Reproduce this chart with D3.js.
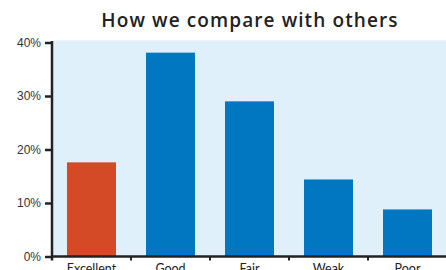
<!DOCTYPE html>
<html lang="en">
<head>
<meta charset="UTF-8">
<script src="https://d3js.org/d3.v7.min.js"></script>
<style>
    body { margin: 0; background: #fff; }
    svg { display: block; font-family: Lato, "Open Sans", sans-serif; }
    .tick-label { font-size: 12px; fill: #333; }
    .cat-label { font-size: 12.5px; fill: #222; }
    .title { font-family: "Open Sans", sans-serif; font-size: 19px; font-weight: 600; letter-spacing: 1.1px; fill: #222; }
</style>
</head>
<body>
<div id="chart"></div>
<script>
    // Data
    const categories = ["Excellent", "Good", "Fair", "Weak", "Poor"];
    const percents = [17.6, 38.1, 29.0, 14.4, 8.8];
    const highlight = "Excellent";
    const yTicks = [0, 10, 20, 30, 40];

    const width = 446, height = 270;
    const plotLeft = 52, plotRight = 447, plotTop = 42.5, plotBottom = 256.5;

    const svg = d3.select("#chart").append("svg")
        .attr("width", width)
        .attr("height", height);

    const x = d3.scaleBand()
        .domain(categories)
        .range([plotLeft, plotRight])
        .paddingInner(0.38)
        .paddingOuter(0.19);

    const y = d3.scaleLinear()
        .domain([0, 40])
        .range([plotBottom, plotTop]);

    // plot background
    svg.append("rect")
        .attr("x", plotLeft)
        .attr("y", plotTop - 2)
        .attr("width", width - plotLeft)
        .attr("height", plotBottom - plotTop + 2)
        .attr("fill", "#dff0fa");

    // bars
    svg.append("g")
        .selectAll("rect")
        .data(categories)
        .enter().append("rect")
        .attr("x", d => x(d))
        .attr("width", x.bandwidth())
        .attr("y", (d, i) => y(percents[i]))
        .attr("height", (d, i) => y(0) - y(percents[i]))
        .attr("fill", d => d === highlight ? "#d54a26" : "#0077c0");

    // y axis
    const yAxis = svg.append("g")
        .attr("transform", `translate(${plotLeft},0)`)
        .call(d3.axisLeft(y).tickValues(yTicks).tickFormat(d => d + "%").tickSize(7).tickPadding(4));
    yAxis.select(".domain").remove();
    yAxis.selectAll(".tick line").attr("stroke", "#222").attr("stroke-width", 2.5);
    yAxis.selectAll(".tick text").attr("class", "tick-label").attr("font-family", null).attr("font-size", null);
    yAxis.append("line")
        .attr("x1", 0).attr("x2", 0)
        .attr("y1", plotTop - 1.5).attr("y2", plotBottom + 4)
        .attr("stroke", "#222").attr("stroke-width", 2.5);

    // x axis: line plus ticks at band boundaries
    const step = x.step();
    const bounds = categories.slice(1).map(d => x(d) - step * x.paddingInner() / 2);
    svg.append("line")
        .attr("x1", plotLeft).attr("x2", width)
        .attr("y1", plotBottom).attr("y2", plotBottom)
        .attr("stroke", "#222").attr("stroke-width", 2.5);
    svg.append("g")
        .selectAll("line")
        .data(bounds)
        .enter().append("line")
        .attr("x1", d => Math.round(d)).attr("x2", d => Math.round(d))
        .attr("y1", plotBottom).attr("y2", plotBottom + 4)
        .attr("stroke", "#222").attr("stroke-width", 2);

    // category labels (partly below the picture edge, as in the original)
    svg.append("g")
        .selectAll("text")
        .data(categories)
        .enter().append("text")
        .attr("class", "cat-label")
        .attr("x", d => x(d) + x.bandwidth() / 2)
        .attr("y", plotBottom + 16)
        .attr("text-anchor", "middle")
        .text(d => d);

    // title
    svg.append("text")
        .attr("class", "title")
        .attr("x", 250)
        .attr("y", 27)
        .attr("text-anchor", "middle")
        .text("How we compare with others");
</script>
</body>
</html>
